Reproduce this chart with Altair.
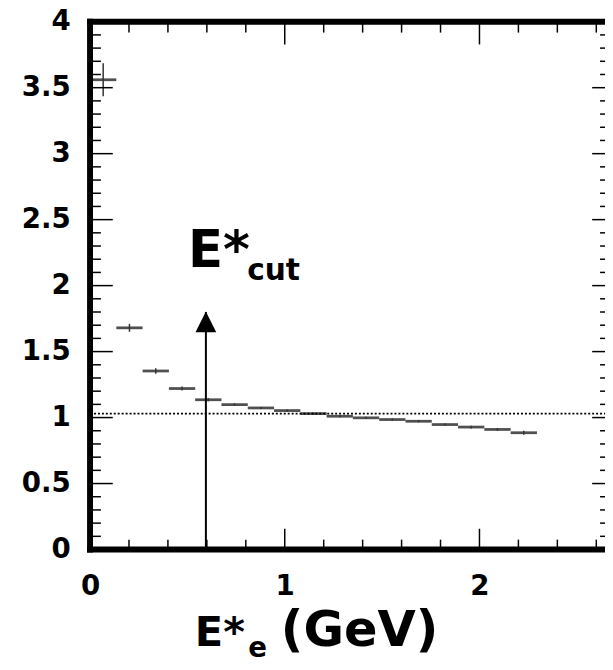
import altair as alt
import pandas as pd

# ---- data ----
bin_lo = [0.0, 0.135, 0.27, 0.405, 0.54, 0.675, 0.81, 0.945, 1.08, 1.215,
          1.35, 1.485, 1.62, 1.755, 1.89, 2.025, 2.16]
bin_hi = [0.135, 0.27, 0.405, 0.54, 0.675, 0.81, 0.945, 1.08, 1.215, 1.35,
          1.485, 1.62, 1.755, 1.89, 2.025, 2.16, 2.295]
ratio = [3.56, 1.68, 1.353, 1.22, 1.135, 1.098, 1.073, 1.053, 1.03, 1.01,
         0.998, 0.985, 0.972, 0.947, 0.928, 0.91, 0.885]
err = [0.125, 0.03, 0.02, 0.015, 0.012, 0.01, 0.008, 0.008, 0.008, 0.008,
       0.008, 0.008, 0.008, 0.008, 0.01, 0.01, 0.015]

ref_level = [1.03]          # dotted reference line
cut_x = [0.595]             # E*cut arrow position (GeV)
cut_top = [1.80]            # arrow tip height

x_major = [0, 1, 2]
x_minor = [0.2, 0.4, 0.6, 0.8, 1.2, 1.4, 1.6, 1.8, 2.2, 2.4, 2.6]
y_major = [0, 0.5, 1, 1.5, 2, 2.5, 3, 3.5, 4]
y_minor = [round(i * 0.1, 1) for i in range(41) if i % 5]

# ---- layout ----
W, H = 521, 534
X_MAX = 2.6447
FONT = "DejaVu Sans"

df = pd.DataFrame({"lo": bin_lo, "hi": bin_hi, "ratio": ratio, "err": err})
df["c"] = (df["lo"] + df["hi"]) / 2
df["ylo"] = df["ratio"] - df["err"]
df["yhi"] = df["ratio"] + df["err"]

xs = alt.Scale(domain=[0, X_MAX], nice=False, zero=False)
ys = alt.Scale(domain=[0, 4], nice=False, zero=False)

common_axis = dict(title=None, domain=False, ticks=False, tickSize=0, grid=False,
                   labelFont=FONT, labelFontWeight="bold", labelFontSize=28,
                   labelColor="black", labelFlush=False, labelOverlap=False,
                   format="~g")
XA = alt.Axis(values=x_major, labelPadding=24, **common_axis)
YA = alt.Axis(values=y_major, labelPadding=20, **common_axis)


def X(f):
    return alt.X(f, scale=xs, axis=XA)


def Y(f):
    return alt.Y(f, scale=ys, axis=YA)


bars = alt.Chart(df).mark_rule(color="#505050", strokeWidth=2.8).encode(
    x=X("lo:Q"), x2="hi:Q", y=Y("ratio:Q"),
)

errs = alt.Chart(df).mark_rule(color="#333333", strokeWidth=1.5).encode(
    x=X("c:Q"), y=Y("ylo:Q"), y2="yhi:Q",
)

ref = alt.Chart(pd.DataFrame({"v": ref_level})).mark_rule(
    color="black", strokeWidth=1.6, strokeDash=[2, 2]
).encode(y=Y("v:Q"), x=alt.value(0), x2=alt.value(W))

cut_df = pd.DataFrame({"x": cut_x, "top": cut_top, "bot": [0]})
arrow_line = alt.Chart(cut_df).mark_rule(color="black", strokeWidth=2).encode(
    x=X("x:Q"), y=Y("bot:Q"), y2="top:Q",
)
arrow_head = alt.Chart(cut_df).mark_point(
    shape="M0,-1L1,1L-1,1Z", size=441, filled=True, color="black", opacity=1, yOffset=10
).encode(x=X("x:Q"), y=Y("top:Q"))


# ---- ticks (inward) ----
def yticks(vals, length, right=False):
    d = pd.DataFrame({"v": vals})
    x0 = W if right else 0
    x1 = W - length if right else length
    return alt.Chart(d).mark_rule(color="black", strokeWidth=1.5).encode(
        y=Y("v:Q"), x=alt.value(x0), x2=alt.value(x1))


def xticks(vals, length, top=False):
    d = pd.DataFrame({"v": vals})
    y0 = 0 if top else H
    y1 = length if top else H - length
    return alt.Chart(d).mark_rule(color="black", strokeWidth=1.5).encode(
        x=X("v:Q"), y=alt.value(y0), y2=alt.value(y1))


ticks = [
    yticks(y_major, 23), yticks(y_minor, 11),
    yticks(y_major, 13, right=True), yticks(y_minor, 5, right=True),
    xticks(x_major, 21), xticks(x_minor, 10),
    xticks(x_major, 23, top=True), xticks(x_minor, 11, top=True),
]

# ---- frame (left, bottom, top) ----
one = pd.DataFrame({"a": [0]})
frame = [
    alt.Chart(one).mark_rule(color="black", strokeWidth=6, strokeCap="square").encode(
        x=alt.value(0), x2=alt.value(W + 6), y=alt.value(0)),
    alt.Chart(one).mark_rule(color="black", strokeWidth=6, strokeCap="square").encode(
        x=alt.value(0), x2=alt.value(W + 6), y=alt.value(H)),
    alt.Chart(one).mark_rule(color="black", strokeWidth=6, strokeCap="square").encode(
        x=alt.value(0), y=alt.value(0), y2=alt.value(H)),
]


# ---- texts ----
def txt(s, x, y, size):
    return alt.Chart(one).mark_text(
        text=s, font=FONT, fontWeight="bold", fontSize=size, color="black",
        align="left", baseline="alphabetic"
    ).encode(x=alt.value(x), y=alt.value(y))


texts = [
    txt("E*", 99, 248, 52),
    txt("cut", 159, 261, 30),
    txt("E*", 106, 632, 42),
    txt("e", 160, 643, 28),
    txt("(GeV)", 193, 632, 50),
]

chart = alt.layer(
    bars, errs, ref, arrow_line, arrow_head, *ticks, *frame, *texts
).properties(
    width=W, height=H,
    autosize=alt.AutoSizeParams(type="none"),
    padding={"left": 83, "top": 10, "right": 0, "bottom": 116},
).configure_view(stroke="transparent")

chart.save("out.html", embed_options={"renderer": "svg", "actions": False})
